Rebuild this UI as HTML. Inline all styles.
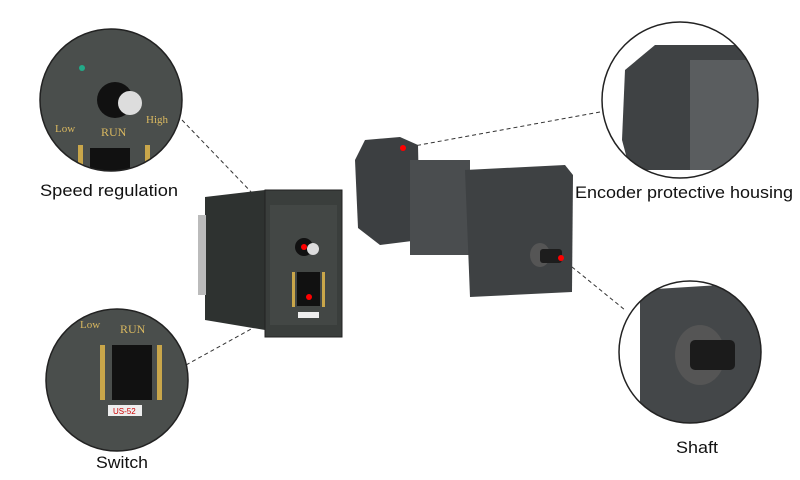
<!DOCTYPE html><html><head><style>body{margin:0;background:#fff}svg{display:block}</style></head><body>
<svg width="800" height="480" viewBox="0 0 800 480" font-family="Liberation Sans, sans-serif">
<defs>
<clipPath id="c1"><circle cx="111" cy="100" r="71"/></clipPath>
<clipPath id="c2"><circle cx="117" cy="380" r="71"/></clipPath>
<clipPath id="c3"><circle cx="680" cy="100" r="78"/></clipPath>
<clipPath id="c4"><circle cx="690" cy="352" r="71"/></clipPath>
</defs>
<g stroke="#333" stroke-width="1" stroke-dasharray="4,3" fill="none">
<line x1="182" y1="120" x2="304" y2="247"/>
<line x1="186" y1="365" x2="309" y2="297"/>
<line x1="600" y1="112" x2="403" y2="148"/>
<line x1="561" y1="258" x2="625" y2="310"/>
</g>
<polygon points="205,197 265,190 265,330 205,320" fill="#2e3230"/>
<rect x="198" y="215" width="8" height="80" fill="#bbb"/>
<rect x="265" y="190" width="77" height="147" fill="#3a3e3c" stroke="#222"/>
<rect x="270" y="205" width="67" height="120" fill="#434745"/>
<circle cx="304" cy="247" r="9" fill="#111"/><circle cx="313" cy="249" r="6" fill="#ddd"/>
<rect x="297" y="272" width="23" height="34" fill="#111"/><rect x="292" y="272" width="3" height="35" fill="#c9a64a"/><rect x="322" y="272" width="3" height="35" fill="#c9a64a"/>
<rect x="298" y="312" width="21" height="6" fill="#eee"/>
<circle cx="304" cy="247" r="3" fill="red"/><circle cx="309" cy="297" r="3" fill="red"/>
<polygon points="365,140 400,137 418,145 420,240 380,245 358,228 355,160" fill="#3c3f41"/>
<rect x="410" y="160" width="60" height="95" fill="#4a4d4f"/>
<polygon points="465,170 565,165 573,175 572,292 470,297" fill="#3e4143"/>
<ellipse cx="540" cy="255" rx="10" ry="12" fill="#555"/>
<rect x="540" y="249" width="22" height="14" rx="3" fill="#1d1d1d"/>
<circle cx="403" cy="148" r="3" fill="red"/><circle cx="561" cy="258" r="3" fill="red"/>
<g clip-path="url(#c1)"><rect x="30" y="20" width="170" height="160" fill="#4a4e4c"/>
<circle cx="115" cy="100" r="18" fill="#111"/><circle cx="130" cy="103" r="12" fill="#ddd"/>
<rect x="90" y="148" width="40" height="30" fill="#111"/><rect x="78" y="145" width="5" height="30" fill="#c9a64a"/><rect x="145" y="145" width="5" height="30" fill="#c9a64a"/>
<text x="55" y="132" font-size="11" fill="#d9b860" font-family="Liberation Serif,serif">Low</text><text x="101" y="136" font-size="12" fill="#d9b860" font-family="Liberation Serif,serif">RUN</text><text x="146" y="123" font-size="11" fill="#d9b860" font-family="Liberation Serif,serif">High</text>
<circle cx="82" cy="68" r="3" fill="#2a8"/></g>
<circle cx="111" cy="100" r="71" fill="none" stroke="#222" stroke-width="1.5"/>
<g clip-path="url(#c2)"><rect x="40" y="300" width="160" height="160" fill="#4a4e4c"/>
<rect x="112" y="345" width="40" height="55" fill="#111"/><rect x="100" y="345" width="5" height="55" fill="#c9a64a"/><rect x="157" y="345" width="5" height="55" fill="#c9a64a"/>
<rect x="108" y="405" width="34" height="11" fill="#eee"/><text x="113" y="414" font-size="8" fill="#c00">US-52</text>
<text x="80" y="328" font-size="11" fill="#d9b860" font-family="Liberation Serif,serif">Low</text><text x="120" y="333" font-size="12" fill="#d9b860" font-family="Liberation Serif,serif">RUN</text></g>
<circle cx="117" cy="380" r="71" fill="none" stroke="#222" stroke-width="1.5"/>
<g clip-path="url(#c3)"><rect x="600" y="20" width="160" height="160" fill="#fff"/>
<polygon points="625,70 655,45 740,45 760,80 760,170 630,170 622,140" fill="#3f4244"/>
<rect x="690" y="60" width="70" height="110" fill="#5a5d5f"/></g>
<circle cx="680" cy="100" r="78" fill="none" stroke="#222" stroke-width="1.5"/>
<g clip-path="url(#c4)"><rect x="615" y="280" width="150" height="150" fill="#fff"/>
<polygon points="640,290 720,285 765,300 765,425 640,425" fill="#444749"/>
<ellipse cx="700" cy="355" rx="25" ry="30" fill="#555"/><rect x="690" y="340" width="45" height="30" rx="5" fill="#1b1b1b"/></g>
<circle cx="690" cy="352" r="71" fill="none" stroke="#222" stroke-width="1.5"/>
<g font-size="17" fill="#111" font-family="Liberation Sans, sans-serif">
<text x="40" y="196" textLength="138" lengthAdjust="spacingAndGlyphs">Speed regulation</text>
<text x="96" y="468" textLength="52" lengthAdjust="spacingAndGlyphs">Switch</text>
<text x="575" y="198" textLength="218" lengthAdjust="spacingAndGlyphs">Encoder protective housing</text>
<text x="676" y="453" textLength="42" lengthAdjust="spacingAndGlyphs">Shaft</text>
</g>
</svg>
</body></html>
